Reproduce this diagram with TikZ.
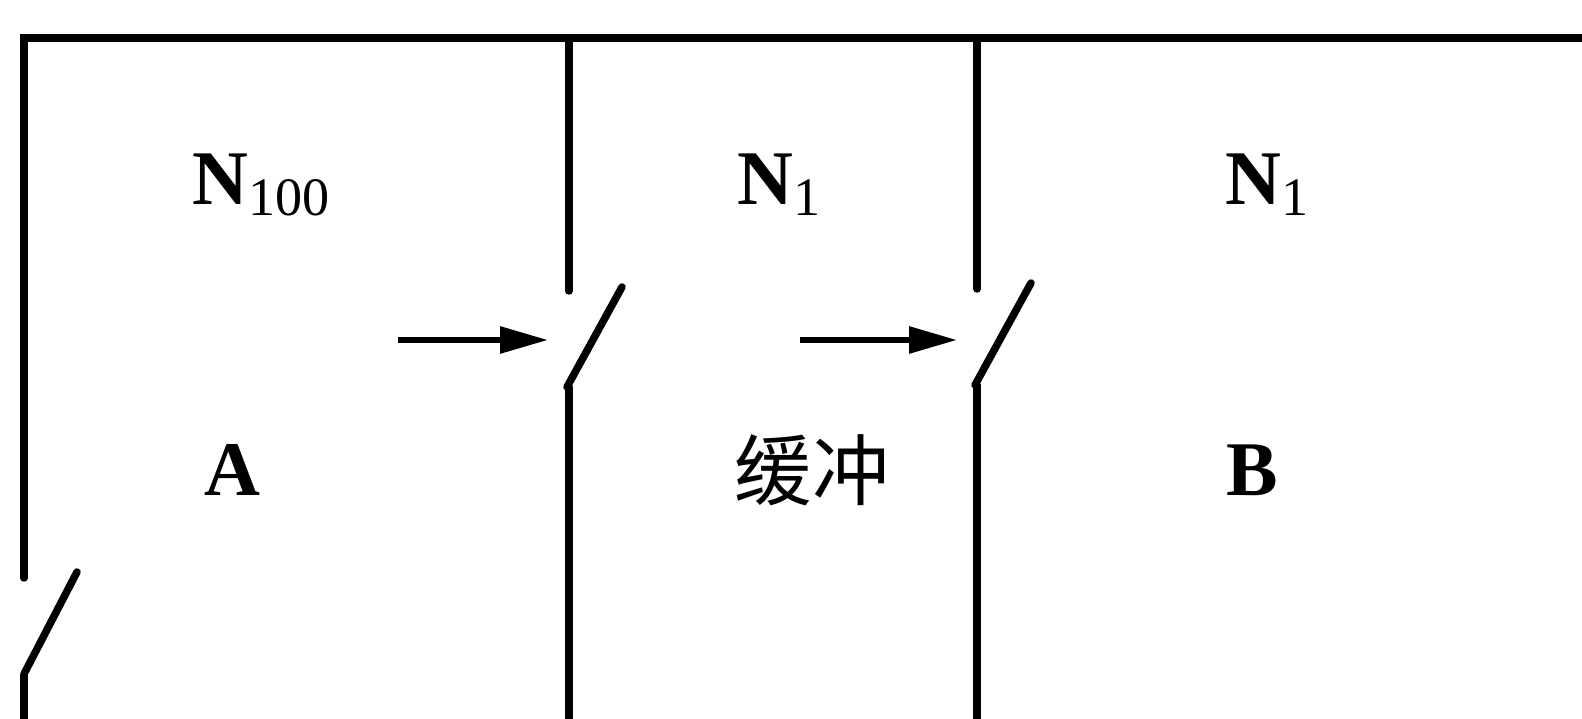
\documentclass[tikz,border=0pt]{standalone}
\usepackage{fontspec}
\setmainfont{Liberation Serif}
\newfontfamily\cjk{Noto Sans CJK SC}
\usetikzlibrary{arrows,arrows.meta,positioning}
\tikzset{wall/.style={line width=0.075cm,line cap=round},
  lbl/.style={inner sep=0pt,font=\fontsize{22}{26}\selectfont\bfseries}}

\begin{document}
\begin{tikzpicture}
\useasboundingbox (0,0) rectangle (15.82,7.19);
% \draw[help lines] (0,0) grid (15,7);
\draw[wall] (15.82,6.81) -- (0.24,6.81) -- (0.24,1.41);
\draw[wall] (0.24,0.44) -- (0.24,0);
\draw[wall] (0.24,0.45) -- (0.77,1.47);
%
\draw[wall] (5.69,6.81) -- (5.69,4.28);
\draw[wall] (5.67,3.32) -- (6.22,4.32);
\draw[wall] (5.69,3.32) -- (5.69,0);
%
\draw[wall] (9.77,6.81) -- (9.77,4.30);
\draw[wall] (9.75,3.34) -- (10.31,4.36);
\draw[wall] (9.77,3.34) -- (9.77,0);
%
\node (n100) [lbl] at (2.62,5.34) {N\textsubscript{\mdseries 100}};
\node (n1) [lbl] at (7.80,5.34) {N\textsubscript{\mdseries 1}};
\node (n1b) [lbl] at (12.68,5.34) {N\textsubscript{\mdseries 1}};
\node (a) [lbl] at (2.32,2.49) {A};
\node (buf) [lbl] at (8.12,2.49) {\cjk\mdseries 缓冲};
\node (b) [lbl] at (12.52,2.49) {B};
%
\coordinate (s1) at (3.98,3.79);
\coordinate (e1) at (5.48,3.79);
\coordinate (s2) at (8.00,3.79);
\coordinate (e2) at (9.57,3.79);
\path[-{Triangle[length=4.8mm,width=2.6mm]},line width=0.06cm] (s1) edge (e1);
\path[-{Triangle[length=4.8mm,width=2.6mm]},line width=0.06cm] (s2) edge (e2);
\end{tikzpicture}
\end{document}
